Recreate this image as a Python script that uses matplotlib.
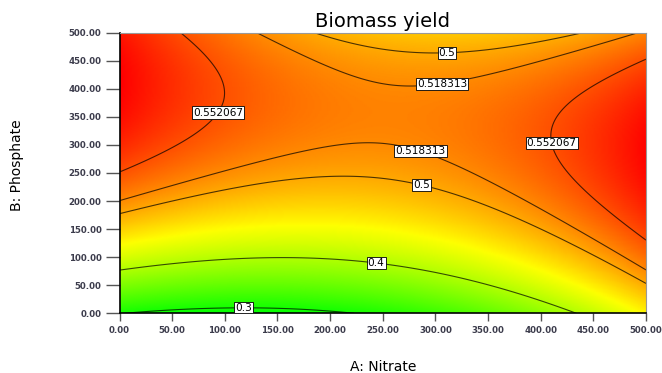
import numpy as np
import matplotlib
matplotlib.use("Agg")
import matplotlib.pyplot as plt
from matplotlib.colors import LinearSegmentedColormap, TwoSlopeNorm

# ---- contour traces (A: Nitrate, B: Phosphate) ----
levels = [0.3, 0.4, 0.5, 0.518313, 0.552067]
level_text = ["0.3", "0.4", "0.5", "0.518313", "0.552067"]

nitrate_030 = [0, 60, 118, 180, 212]
phosphate_030 = [1, 7, 9, 5, 0]

nitrate_040 = [0, 75, 150, 244, 300, 350, 400, 432]
phosphate_040 = [77, 92, 98, 92, 80, 50, 24, 0]

nitrate_050_low = [0, 63, 126, 189, 221, 256, 287, 342, 415, 500]
phosphate_050_low = [177, 205, 229, 243, 245, 238, 233, 196, 131, 56]
nitrate_050_up = [186, 200, 285, 333, 390, 437]
phosphate_050_up = [500, 491, 465, 466, 481, 500]

nitrate_0518_low = [0, 63, 126, 189, 227, 256, 288, 342, 390, 450, 500]
phosphate_0518_low = [201, 232, 264, 294, 306, 302, 294, 250, 196, 131, 78]
nitrate_0518_up = [130, 200, 259, 333, 390, 421, 500]
phosphate_0518_up = [500, 435, 401, 417, 451, 469, 500]

nitrate_0552_left = [59, 83, 95, 92, 64, 29, 0]
phosphate_0552_left = [500, 452, 398, 345, 309, 273, 254]
nitrate_0552_right = [497, 453, 421, 412, 410, 412, 437, 488, 500]
phosphate_0552_right = [449, 404, 362, 339, 324, 291, 220, 143, 131]

# label anchor spots (data coords)
label_spots = [(118, 12), (244, 95), (311, 468), (287, 233), (306, 412),
               (287, 296), (88, 365), (410, 303)]

ticks = [0, 50, 100, 150, 200, 250, 300, 350, 400, 450, 500]
yellow_value = 0.45  # response value that shows as pure yellow

# ---- fit a cubic response surface through the traced contour points ----
traces = [
    (nitrate_030, phosphate_030, 0.3),
    (nitrate_040, phosphate_040, 0.4),
    (nitrate_050_low, phosphate_050_low, 0.5),
    (nitrate_050_up, phosphate_050_up, 0.5),
    (nitrate_0518_low, phosphate_0518_low, 0.518313),
    (nitrate_0518_up, phosphate_0518_up, 0.518313),
    (nitrate_0552_left, phosphate_0552_left, 0.552067),
    (nitrate_0552_right, phosphate_0552_right, 0.552067),
]
px, py, pz = [], [], []
for xs, ys, lv in traces:
    px += list(xs); py += list(ys); pz += [lv] * len(xs)
px = np.array(px, float); py = np.array(py, float); pz = np.array(pz, float)


def design(a, b):
    a = a / 250.0 - 1.0
    b = b / 250.0 - 1.0
    return np.stack([np.ones_like(a), a, b, a * b, a ** 2, b ** 2,
                     a ** 2 * b, a * b ** 2, a ** 3, b ** 3], axis=-1)


coef, *_ = np.linalg.lstsq(design(px, py), pz, rcond=None)

gx = np.linspace(0, 500, 301)
gy = np.linspace(0, 500, 301)
GX, GY = np.meshgrid(gx, gy)
GZ = design(GX, GY) @ coef

# ---- figure ----
plt.rcParams['font.family'] = ['DejaVu Sans']
fig = plt.figure(figsize=(6.62, 3.73), dpi=100)
ax = fig.add_axes([119.5 / 662, 1 - 313.3 / 373, (646 - 119.5) / 662, (313.3 - 32.7) / 373])

cmap = LinearSegmentedColormap.from_list("dx", [(0.0, 1.0, 0.0), (1.0, 1.0, 0.0), (1.0, 0.0, 0.0)])
norm = TwoSlopeNorm(vmin=GZ.min(), vcenter=yellow_value, vmax=GZ.max())
ax.pcolormesh(GX, GY, GZ, cmap=cmap, norm=norm, shading='gouraud')

cs = ax.contour(GX, GY, GZ, levels=levels, colors='black', linewidths=0.8, alpha=0.7)
fmt = {lv: t for lv, t in zip(levels, level_text)}
texts = ax.clabel(cs, levels=levels, fmt=fmt, inline=False, manual=label_spots, fontsize=7.6, colors='black')
for t in texts:
    t.set_rotation(0)
    t.set_alpha(1)
    t.set_bbox(dict(boxstyle='square,pad=0.1', fc='white', ec='black', lw=0.6))

ax.set_xlim(0, 500)
ax.set_ylim(0, 500)
ax.set_xticks(ticks)
ax.set_yticks(ticks)
ax.set_xticklabels([f"{v:.2f}" for v in ticks])
ax.set_yticklabels([f"{v:.2f}" for v in ticks])
ax.tick_params(axis='x', direction='out', length=6, width=1, color='#555555', pad=3,
               labelsize=6.2, labelcolor='#3c3c4c')
ax.tick_params(axis='y', direction='out', length=10, width=1, color='#555555', pad=3,
               labelsize=6.2, labelcolor='#3c3c4c')
for lab in ax.get_xticklabels() + ax.get_yticklabels():
    lab.set_fontweight('bold')

for side in ['left', 'bottom']:
    ax.spines[side].set_color('black')
    ax.spines[side].set_linewidth(1.2)
for side in ['top', 'right']:
    ax.spines[side].set_color('#999999')
    ax.spines[side].set_linewidth(0.8)

ax.set_title("Biomass yield", fontsize=14, pad=4)
fig.text(383 / 662, 1 - 367 / 373, "A: Nitrate", fontsize=10, ha='center', va='center')
fig.text(17 / 662, 1 - 165 / 373, "B: Phosphate", fontsize=10, ha='center', va='center', rotation=90)

fig.savefig("out.png", dpi=100)
